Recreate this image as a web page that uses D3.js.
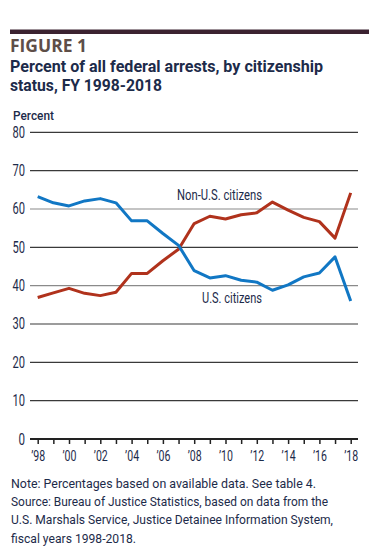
<!DOCTYPE html>
<meta charset="utf-8">
<script src="https://d3js.org/d3.v7.min.js"></script>
<style>
  body { margin: 0; background: #fff; }
  svg text { font-family: "Roboto", "Liberation Sans", sans-serif; }
</style>
<div id="chart"></div>
<script>
// data
var years = d3.range(1998, 2019);
var usCitizens = [63.2, 61.6, 60.8, 62.1, 62.7, 61.6, 56.9, 56.9, 53.6, 50.5, 43.9, 42.0, 42.6, 41.4, 40.9, 38.8, 40.2, 42.3, 43.3, 47.5, 36.0];
var nonUsCitizens = [36.9, 38.1, 39.3, 38.0, 37.4, 38.3, 43.2, 43.2, 46.5, 49.5, 56.2, 58.1, 57.4, 58.5, 59.0, 61.8, 59.7, 57.8, 56.7, 52.4, 64.2];
var yTicks = [0, 10, 20, 30, 40, 50, 60, 70, 80];
var xLabelYears = d3.range(1998, 2019, 2);

var W = 380, H = 552;
var svg = d3.select("#chart").append("svg").attr("width", W).attr("height", H);

var navy = "#1d2b4a";

// helper: text squeezed to the width it has in the figure
function label(x0, y0, str, size, width, weight, fill) {
  return svg.append("text").attr("x", x0).attr("y", y0).text(str)
    .attr("font-size", size).attr("font-weight", weight || "normal")
    .attr("fill", fill || navy)
    .attr("textLength", width).attr("lengthAdjust", "spacingAndGlyphs");
}

// header bar + titles
svg.append("rect").attr("x", 10).attr("y", 29.5).attr("width", 359).attr("height", 4.5).attr("fill", "#3b2230");
label(10, 52, "FIGURE 1", 17, 77, "bold", "#5e4e48")
  .style("font-family", "'Open Sans', 'Liberation Sans', sans-serif");
label(10, 72, "Percent of all federal arrests, by citizenship", 17, 313, "bold");
label(10, 91, "status, FY 1998-2018", 17, 152, "bold");
label(13, 120, "Percent", 12.5, 41, 500);

// scales
var x = d3.scaleLinear().domain([1998, 2018]).range([37.7, 350.7]);
var y = d3.scaleLinear().domain([0, 80]).range([439, 132.3]);
var gridLeft = 30, gridRight = 358;

// gridlines
svg.append("g").selectAll("line").data(yTicks.filter(function (d) { return d > 0; })).enter()
  .append("line")
  .attr("x1", gridLeft).attr("x2", gridRight)
  .attr("y1", function (d) { return y(d); }).attr("y2", function (d) { return y(d); })
  .attr("stroke", function (d) { return (d === 60 || d === 40) ? "#8a8a8a" : "#3a3a3a"; })
  .attr("stroke-width", 1.2);

// y labels
svg.append("g").selectAll("text").data(yTicks).enter()
  .append("text")
  .attr("x", 25).attr("y", function (d) { return y(d) + 5.5; })
  .attr("text-anchor", "end").attr("font-size", 16).attr("fill", navy)
  .attr("textLength", function (d) { return d < 10 ? 6.5 : 12.5; })
  .attr("lengthAdjust", "spacingAndGlyphs")
  .text(function (d) { return d; });

// x axis
var xAxis = d3.axisBottom(x)
  .tickValues(years)
  .tickSize(5)
  .tickFormat(function (d) { return xLabelYears.indexOf(d) >= 0 ? "\u2019" + String(d).slice(2) : ""; });
var gx = svg.append("g").attr("transform", "translate(0," + y(0) + ")").call(xAxis);
gx.select(".domain").attr("d", "M" + gridLeft + ",0H" + gridRight).attr("stroke", "#222").attr("stroke-width", 2);
gx.selectAll(".tick line").attr("stroke", "#222").attr("stroke-width", 1.5);
gx.selectAll(".tick text").attr("dy", 0).attr("y", 22).attr("font-size", 15.5).attr("fill", navy)
  .attr("textLength", function () { return this.textContent ? 14 : null; })
  .attr("lengthAdjust", "spacingAndGlyphs")
  .style("font-family", "Roboto, sans-serif");

// lines
var line = d3.line().x(function (d, i) { return x(years[i]); }).y(function (d) { return y(d); });
svg.append("path").datum(nonUsCitizens).attr("d", line)
  .attr("fill", "none").attr("stroke", "#b0321c").attr("stroke-width", 3).attr("stroke-linejoin", "round");
svg.append("path").datum(usCitizens).attr("d", line)
  .attr("fill", "none").attr("stroke", "#1177c4").attr("stroke-width", 3).attr("stroke-linejoin", "round");

// series labels
label(177, 200, "Non-U.S. citizens", 14.5, 85);
label(202, 303, "U.S. citizens", 14.5, 60);

// notes
var notes = [
  "Note: Percentages based on available data. See table 4.",
  "Source: Bureau of Justice Statistics, based on data from the",
  "U.S. Marshals Service, Justice Detainee Information System,",
  "fiscal years 1998-2018."
];
var noteWidths = [305, 317, 322, 125];
svg.append("g").selectAll("text").data(notes).enter()
  .append("text")
  .attr("x", 11).attr("y", function (d, i) { return 488 + i * 18.2; })
  .attr("font-size", 13.5).attr("fill", navy)
  .attr("textLength", function (d, i) { return noteWidths[i]; })
  .attr("lengthAdjust", "spacingAndGlyphs")
  .text(function (d) { return d; });
</script>
